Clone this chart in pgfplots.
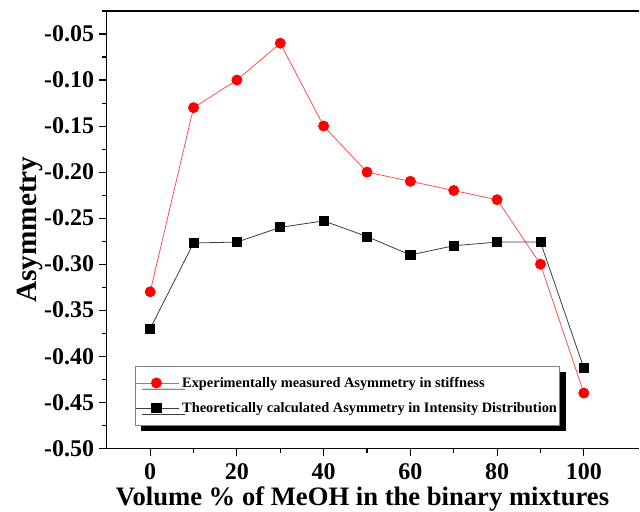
\documentclass[border=0pt]{standalone}
\usepackage{pgfplots}
\pgfplotsset{compat=1.18}
\usepackage{fontspec}
\setmainfont{Liberation Serif}
\usetikzlibrary{shadows}
\definecolor{redline}{RGB}{255,80,80}
\definecolor{blkline}{RGB}{60,60,60}
\begin{document}
\begin{tikzpicture}[x=1pt,y=1pt]
\path (-80.25pt,-44.25pt) rectangle (400pt,336.75pt);
\begin{axis}[
  at={(0pt,0pt)}, anchor=south west,
  scale only axis, width=400pt, height=328.5pt,
  xmin=-10, xmax=112.8, ymin=-0.50, ymax=-0.025,
  axis x line=box, axis y line=left,
  y axis line style={-}, x axis line style={-},
  axis line style={line width=1pt},
  xtick={0,20,...,100}, minor xtick={10,30,...,90},
  ytick={-0.50,-0.45,...,-0.04}, minor ytick={-0.475,-0.425,...,-0.03},
  xtick pos=bottom, ytick pos=left,
  tick align=outside,
  major tick length=6pt, minor tick length=3.5pt,
  every tick/.style={black, line width=0.8pt},
  /pgf/number format/assume math mode=true,
  ticklabel style={font=\fontsize{18}{18}\selectfont\bfseries},
  xticklabel style={inner sep=0.5pt, yshift=-5pt},
  yticklabel style={/pgf/number format/.cd, fixed, fixed zerofill, precision=2},
  xlabel={Volume \% of MeOH in the binary mixtures},
  ylabel={Asymmetry},
  xlabel style={font=\fontsize{20}{20}\selectfont\bfseries, at={(ticklabel cs:0.48)}, anchor=near ticklabel, inner sep=0.5pt, yshift=-3.5pt},
  ylabel style={font=\fontsize{22}{22}\selectfont\bfseries, yshift=-6pt},
  legend style={at={(rel axis cs:0.0525,0.0525)}, anchor=south west,
    font=\fontsize{10.8}{11}\selectfont\bfseries, draw=gray, line width=0.6pt,
    fill=white, drop shadow={shadow xshift=4.5pt, shadow yshift=-4.5pt, opacity=1, fill=black},
    row sep=6pt, inner xsep=0pt, inner ysep=6pt, cells={anchor=west}},
  legend image code/.code={\draw[#1,mark=none] (0cm,0cm) -- (1.15cm,0cm); \draw[#1] plot coordinates {(0.55cm,0cm)};},
]
\addplot[color=redline, line width=0.6pt, mark=*, mark size=3.8pt, mark options={fill=red, draw=red}]
coordinates {(0,-0.33) (10,-0.13) (20,-0.10) (30,-0.06) (40,-0.15) (50,-0.20) (60,-0.21) (70,-0.22) (80,-0.23) (90,-0.30) (100,-0.44)};
\addlegendentry{Experimentally measured Asymmetry in stiffness}
\addplot[color=blkline, line width=0.6pt, mark=square*, mark size=3.4pt, mark options={fill=black, draw=black}]
coordinates {(0,-0.37) (10,-0.277) (20,-0.276) (30,-0.260) (40,-0.253) (50,-0.270) (60,-0.290) (70,-0.280) (80,-0.276) (90,-0.276) (100,-0.413)};
\addlegendentry{Theoretically calculated Asymmetry in Intensity Distribution}
\end{axis}
\end{tikzpicture}
\end{document}
